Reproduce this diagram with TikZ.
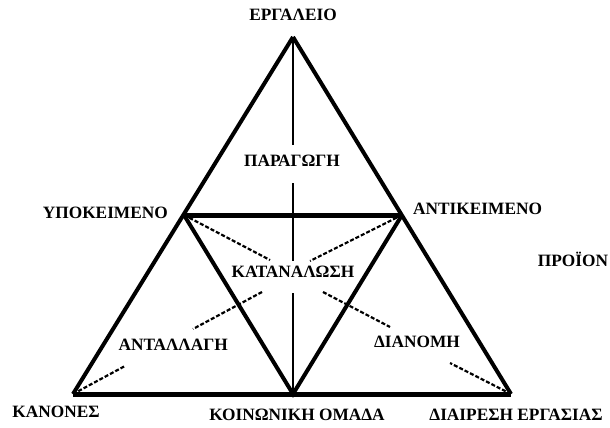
\documentclass[tikz,border=0pt]{standalone}
\usepackage{fontspec}
\setmainfont{Liberation Serif}
\usepackage{tikz}
\usetikzlibrary{positioning}

\begin{document}
\begin{tikzpicture}[x=1pt, y=-1pt,
    edge/.style={line width=4pt, line join=miter},
    base/.style={line width=5pt},
    axis/.style={line width=1.8pt},
    link/.style={line width=2.2pt, dash pattern=on 4pt off 2pt},
    lbl/.style={font=\fontsize{17.3}{19}\selectfont\bfseries, inner sep=0pt},
  ]
    \useasboundingbox (0,0) rectangle (610,428);

    % vertices
    \coordinate (tool)  at (293,37);
    \coordinate (subj)  at (184,215);
    \coordinate (obj)   at (402,215);
    \coordinate (rules) at (73,394);
    \coordinate (comm)  at (293,394);
    \coordinate (div)   at (511,394);

    % labels
    \node[lbl] (ltool)  at (293,15)  {ΕΡΓΑΛΕΙΟ};
    \node[lbl] (lprod)  at (292,161) {ΠΑΡΑΓΩΓΗ};
    \node[lbl, anchor=east] (lsubj) at (168,213) {ΥΠΟΚΕΙΜΕΝΟ};
    \node[lbl, anchor=west] (lobj)  at (413,209) {ΑΝΤΙΚΕΙΜΕΝΟ};
    \node[lbl] (lout)   at (573,259) {ΠΡΟΪΟΝ};
    \node[lbl] (lcons)  at (293,272) {ΚΑΤΑΝΑΛΩΣΗ};
    \node[lbl, anchor=east] (lexch) at (228,345) {ΑΝΤΑΛΛΑΓΗ};
    \node[lbl] (ldist)  at (417,342) {ΔΙΑΝΟΜΗ};
    \node[lbl] (lrules) at (56,412)  {ΚΑΝΟΝΕΣ};
    \node[lbl] (lcomm)  at (297,415) {ΚΟΙΝΩΝΙΚΗ ΟΜΑΔΑ};
    \node[lbl] (ldiv)   at (516,415) {ΔΙΑΙΡΕΣΗ ΕΡΓΑΣΙΑΣ};

    % ends of the thin and dashed lines
    \coordinate (a1) at (293,145);
    \coordinate (a2) at (293,183);
    \coordinate (a3) at (293,261);
    \coordinate (a4) at (293,293);
    \coordinate (d1) at (270,260);
    \coordinate (d2) at (310,261);
    \coordinate (d3) at (262,292);
    \coordinate (d4) at (193,329);
    \coordinate (d5) at (323,292);
    \coordinate (d6) at (390,327);
    \coordinate (d7) at (125,366);
    \coordinate (d8) at (450,363);

    % triangles
    \draw[edge] (tool) -- (rules) (div) -- (tool);
    \draw[base] (rules) -- (div);
    \draw[base] (subj) -- (obj);
    \draw[edge] (subj) -- (comm) -- (obj);

    % middle axis
    \draw[axis] (tool) -- (a1);
    \draw[axis] (a2) -- (a3);
    \draw[axis] (a4) -- (comm);

    % dashed links
    \draw[link] (subj) -- (d1);
    \draw[link] (obj) -- (d2);
    \draw[link] (d3) -- (d4);
    \draw[link] (d5) -- (d6);
    \draw[link] (rules) -- (d7);
    \draw[link] (div) -- (d8);
  \end{tikzpicture}
\end{document}
